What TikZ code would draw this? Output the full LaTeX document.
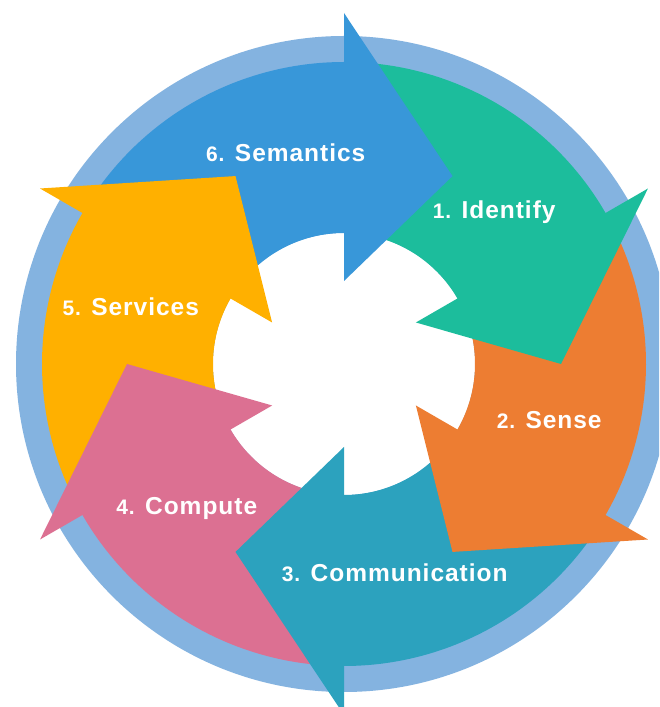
\documentclass[tikz,border=0pt]{standalone}
\usepackage{fontspec}
\setmainfont{Liberation Sans}
\newfontfamily\lblfont[LetterSpace=4.0]{Liberation Sans}
\definecolor{ringblue}{HTML}{84B3E0}
\definecolor{semblue}{HTML}{3897D9}
\definecolor{idgreen}{HTML}{1CBD9C}
\definecolor{senseorange}{HTML}{ED7D32}
\definecolor{commteal}{HTML}{2CA2BE}
\definecolor{comppink}{HTML}{DC7092}
\definecolor{servyellow}{HTML}{FFB000}
\tikzset{
  lbl/.style={text=white, inner sep=0pt, anchor=base,
    font=\lblfont\bfseries\fontsize{24.5}{28}\selectfont},
}
\newcommand{\numpart}[1]{{\fontsize{21}{24}\selectfont #1}}
\begin{document}
\begin{tikzpicture}[x=1pt,y=1pt]
\useasboundingbox (0,0) rectangle (659,707);
\clip (0,0) rectangle (659,707);
\fill[white] (0,0) rectangle (659,707);
\begin{scope}[shift={(344,343)}]
  \fill[ringblue] (0,0) circle[radius=328pt];
  \fill[white] (0,0) circle[radius=131pt];
  % shafts (tail starts inside the previous head, end runs into own head)
  \foreach \b/\col in {90/semblue,30/idgreen,-30/senseorange,-90/commteal,-150/comppink,150/servyellow}{
    \fill[\col] (\b+59:131pt) -- (\b+59:302pt)
      arc[start angle=\b+59, end angle=\b-1, radius=302pt]
      -- (\b-1:131pt)
      arc[start angle=\b-1, end angle=\b+59, radius=131pt] -- cycle;
  }
  % heads
  \foreach \b/\col in {90/semblue,30/idgreen,-30/senseorange,-90/commteal,-150/comppink,150/servyellow}{
    \fill[\col] (\b:351pt) -- (\b-30:217pt) -- (\b:83pt) -- cycle;
  }
\end{scope}
\node[lbl] (l6) at (285.8,545.3) {\numpart{6.} Semantics};
\node[lbl] (l1) at (494.2,488.7) {\numpart{1.} Identify};
\node[lbl] (l2) at (549.2,278) {\numpart{2.} Sense};
\node[lbl] (l3) at (394.8,125.3) {\numpart{3.} Communication};
\node[lbl] (l4) at (186.8,192) {\numpart{4.} Compute};
\node[lbl] (l5) at (130.8,391.3) {\numpart{5.} Services};
\end{tikzpicture}
\end{document}
